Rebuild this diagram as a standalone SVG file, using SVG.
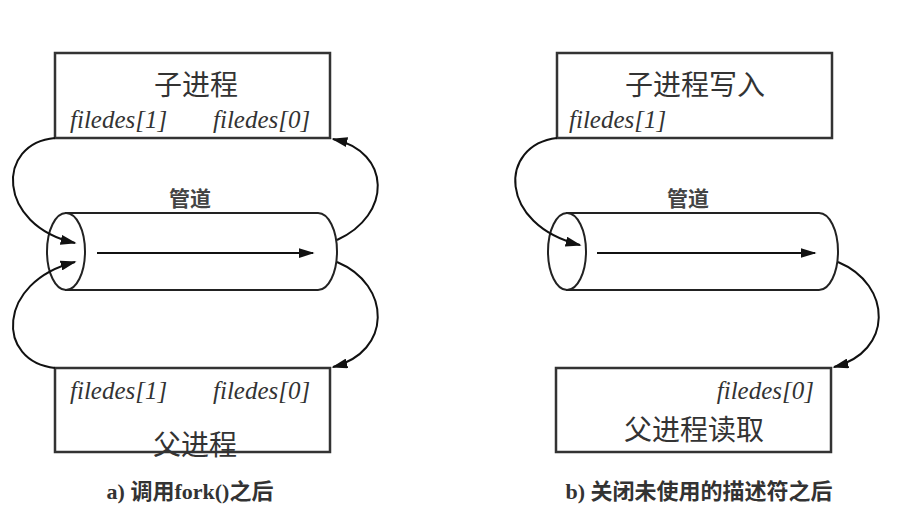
<svg xmlns="http://www.w3.org/2000/svg" width="902" height="517" viewBox="0 0 902 517">
<defs>
<style>
.box{fill:#fff;stroke:#333;stroke-width:2.5}
.pipe{fill:#fff;stroke:#222;stroke-width:2}
.ln{fill:none;stroke:#111;stroke-width:2}
.fd{font-family:"Liberation Serif",serif;font-style:italic;font-size:25px;fill:#333}
.cn{font-family:"Noto Sans CJK SC",sans-serif;font-size:28px;fill:#333;text-anchor:middle}
.pl{font-family:"Noto Sans CJK SC",sans-serif;font-weight:bold;font-size:21px;fill:#444;text-anchor:middle}
.cap{font-family:"Liberation Serif","Noto Sans CJK SC",serif;font-weight:bold;font-size:22px;fill:#333;text-anchor:middle}
</style>
<marker id="ah2" viewBox="0 0 10 10" refX="9" refY="5" markerWidth="16" markerHeight="10" markerUnits="userSpaceOnUse" orient="auto" preserveAspectRatio="none">
<path d="M0,0 L10,5 L0,10 z" fill="#111"/>
</marker>
</defs>

<!-- Left diagram -->
<g id="a-child">
<rect class="box" x="55" y="53" width="275" height="85"/>
<text class="cn" x="196" y="95">子进程</text>
<text class="fd" x="70" y="128">filedes[1]</text>
<text class="fd" x="213" y="128">filedes[0]</text>
</g>
<g id="a-pipe">
<path class="pipe" d="M66,213 L318,213 A19,38.5 0 0 1 318,290 L66,290 Z"/>
<ellipse class="pipe" cx="66" cy="251.5" rx="19" ry="38.5"/>
<text class="pl" x="190" y="206">管道</text>
</g>
<g id="a-parent">
<rect class="box" x="55" y="368" width="275" height="84"/>
<text class="fd" x="70" y="399">filedes[1]</text>
<text class="fd" x="213" y="399">filedes[0]</text>
<text class="cn" x="195" y="455">父进程</text>
</g>
<text id="a-caption" class="cap" x="190" y="499">a) 调用fork()之后</text>

<g id="a-connectors">
<path class="ln" d="M97,253 L313,253" marker-end="url(#ah2)"/>
<path class="ln" d="M55,138 C-4,143 -4,225 75,243" marker-end="url(#ah2)"/>
<path class="ln" d="M55,368 C-4,362 -4,282 75,262" marker-end="url(#ah2)"/>
<path class="ln" d="M337,240 C392,215 392,152 333,139" marker-end="url(#ah2)"/>
<path class="ln" d="M337,262 C392,285 392,352 333,367" marker-end="url(#ah2)"/>
</g>

<!-- Right diagram -->
<g id="b-child">
<rect class="box" x="557" y="53" width="275" height="85"/>
<text class="cn" x="695" y="95">子进程写入</text>
<text class="fd" x="569" y="128">filedes[1]</text>
</g>
<g id="b-pipe">
<path class="pipe" d="M567,213 L819,213 A19,38.5 0 0 1 819,290 L567,290 Z"/>
<ellipse class="pipe" cx="567" cy="251.5" rx="19" ry="38.5"/>
<text class="pl" x="688" y="206">管道</text>
</g>
<g id="b-parent">
<rect class="box" x="556" y="368" width="275" height="84"/>
<text class="fd" x="814" y="399" text-anchor="end">filedes[0]</text>
<text class="cn" x="694" y="440">父进程读取</text>
</g>
<text id="b-caption" class="cap" x="699" y="499">b) 关闭未使用的描述符之后</text>

<g id="b-connectors">
<path class="ln" d="M597,253 L815,253" marker-end="url(#ah2)"/>
<path class="ln" d="M557,138 C498,145 498,225 580,245" marker-end="url(#ah2)"/>
<path class="ln" d="M838,262 C893,285 893,352 834,367" marker-end="url(#ah2)"/>
</g>
</svg>
